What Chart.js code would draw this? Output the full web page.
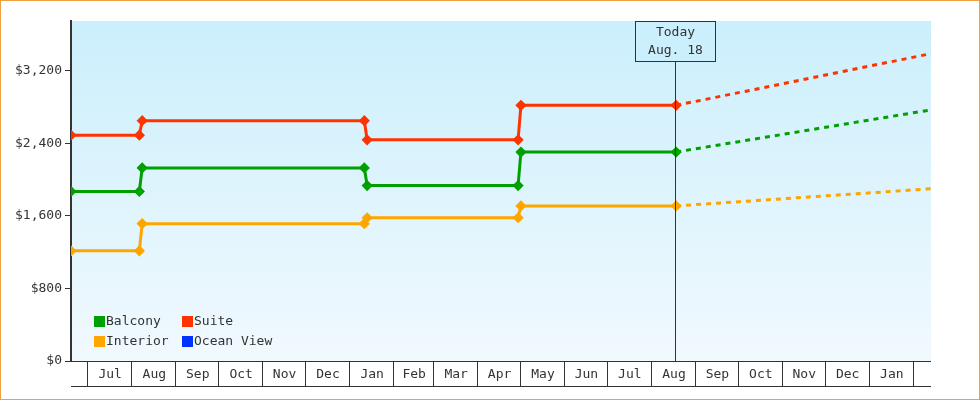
<!DOCTYPE html>
<html>
<head>
<meta charset="utf-8">
<script src="https://cdn.jsdelivr.net/npm/chart.js@4"></script>
<style>
  body { margin: 0; background: #fff; }
  #wrap { width: 978px; height: 398px; border: 1px solid #f0a040; }
</style>
</head>
<body>
<div id="wrap"><canvas id="chart_container" width="978" height="398"></canvas></div>
<script>
// days counted from Jul 1
const monthStarts = [-30, 0, 31, 62, 92, 123, 153, 184, 215, 243, 274, 304, 335, 365, 396, 427, 457, 488, 518, 549, 580]
const monthLabels = ['', 'Jul', 'Aug', 'Sep', 'Oct', 'Nov', 'Dec', 'Jan', 'Feb', 'Mar', 'Apr', 'May', 'Jun', 'Jul', 'Aug', 'Sep', 'Oct', 'Nov', 'Dec', 'Jan']
const todayDay = 413
const todayLabel = ['Today', 'Aug. 18']

const stepDays = [-12, 36, 38, 194, 196, 302, 304, 413]
const suite    = [2490, 2490, 2650, 2650, 2440, 2440, 2820, 2820]
const balcony  = [1870, 1870, 2130, 2130, 1935, 1935, 2305, 2305]
const interior = [1215, 1215, 1515, 1515, 1580, 1580, 1710, 1710]

const forecastDays = [413, 592]
const suiteForecast    = [2820, 3390]
const balconyForecast  = [2305, 2770]
const interiorForecast = [1710, 1900]

const legendItems = [
  ['Balcony', '#00a000'], ['Suite', '#ff3300'],
  ['Interior', '#ffa500'], ['Ocean View', '#0033ff']
]

const font = 'DejaVu Sans Mono'
const pts = (days, vals) => days.map((d, i) => ({ x: d, y: vals[i] }))

function solid(label, color, vals) {
  return { label, data: pts(stepDays, vals), borderColor: color, backgroundColor: color,
    borderWidth: 3, pointRadius: 3.5, pointStyle: 'rectRot', tension: 0 }
}
function dashed(color, vals) {
  return { data: pts(forecastDays, vals), borderColor: color, borderWidth: 3,
    borderDash: [5, 5], pointRadius: 0 }
}

const decorPlugin = {
  id: 'decor',
  beforeDraw(chart) {
    const { ctx, chartArea: a } = chart
    const g = ctx.createLinearGradient(0, a.top, 0, a.bottom)
    g.addColorStop(0, '#cbeffc')
    g.addColorStop(1, '#f1f9fe')
    ctx.fillStyle = g
    ctx.fillRect(a.left, a.top, a.right - a.left, a.bottom - a.top)
  },
  afterDatasetsDraw(chart) {
    const { ctx, chartArea: a, scales: { x } } = chart
    ctx.save()
    // today line + box
    const tx = Math.round(x.getPixelForValue(todayDay)) - 0.5
    ctx.strokeStyle = '#333'
    ctx.lineWidth = 1
    ctx.beginPath(); ctx.moveTo(tx, 61); ctx.lineTo(tx, a.bottom); ctx.stroke()
    ctx.fillStyle = '#cbeffc'
    ctx.fillRect(tx - 40, 20.5, 80, 40)
    ctx.strokeRect(tx - 40, 20.5, 80, 40)
    ctx.fillStyle = '#333'
    ctx.font = '13px ' + font
    ctx.textAlign = 'center'
    ctx.textBaseline = 'middle'
    ctx.fillText(todayLabel[0], tx, 32)
    ctx.fillText(todayLabel[1], tx, 50)

    // x axis line and month boxes
    ctx.strokeStyle = '#333'
    ctx.beginPath()
    ctx.moveTo(a.left, a.bottom + 0.5); ctx.lineTo(a.right, a.bottom + 0.5)
    ctx.moveTo(a.left, 385.5); ctx.lineTo(a.right, 385.5)
    monthStarts.forEach((d, i) => {
      const px = Math.round(x.getPixelForValue(d)) - 0.5
      if (px > a.left && px < a.right) { ctx.moveTo(px, a.bottom); ctx.lineTo(px, 385) }
      const next = monthStarts[i + 1]
      if (monthLabels[i] && next !== undefined) {
        const cx = (x.getPixelForValue(d) + x.getPixelForValue(next)) / 2
        ctx.fillText(monthLabels[i], cx, 374)
      }
    })
    ctx.stroke()

    // legend
    ctx.textAlign = 'left'
    legendItems.forEach(([name, color], i) => {
      const lx = 93 + (i % 2) * 88, ly = 320 + Math.floor(i / 2) * 20
      ctx.fillStyle = color
      ctx.fillRect(lx, ly - 5, 11, 11)
      ctx.fillStyle = '#333'
      ctx.fillText(name, lx + 12, ly + 1)
    })
    ctx.restore()
  }
}

new Chart(document.getElementById('chart_container'), {
  type: 'line',
  data: {
    datasets: [
      solid('Suite', '#ff3300', suite),
      solid('Balcony', '#00a000', balcony),
      solid('Interior', '#ffa500', interior),
      dashed('#ff3300', suiteForecast),
      dashed('#00a000', balconyForecast),
      dashed('#ffa500', interiorForecast)
    ]
  },
  options: {
    responsive: false,
    animation: false,
    layout: { padding: { top: 20, right: 48, bottom: 38, left: 0 } },
    plugins: { legend: { display: false }, tooltip: { enabled: false } },
    scales: {
      x: { type: 'linear', min: -12, max: 592, display: false },
      y: {
        min: 0, max: 3750,
        afterFit(s) { s.width = 70 },
        afterBuildTicks(s) { s.ticks = [0, 800, 1600, 2400, 3200].map(v => ({ value: v })) },
        border: { color: '#333', width: 2 },
        grid: { drawOnChartArea: false, color: '#333', tickLength: 6 },
        ticks: { color: '#333', font: { family: font, size: 13 },
          callback: v => '$' + v.toLocaleString('en-US') }
      }
    }
  },
  plugins: [decorPlugin]
})
</script>
</body>
</html>
